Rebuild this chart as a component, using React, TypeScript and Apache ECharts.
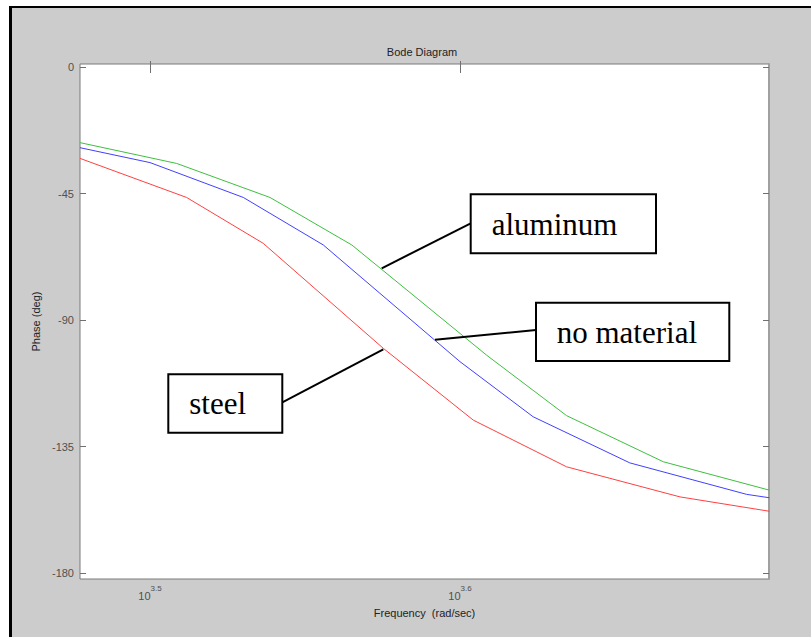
import React, { useEffect, useRef } from "react";
import * as echarts from "echarts";

// frequency given as log10(rad/sec) exponent, phase in degrees
const aluminumFreqExp = [3.4774, 3.5086, 3.5387, 3.5651, 3.6086, 3.6344, 3.6656, 3.6998];
const aluminumPhase = [-26.9, -34.3, -46.4, -63.3, -102.5, -124.0, -140.4, -150.5];

const noMaterialFreqExp = [3.4774, 3.5, 3.5301, 3.5559, 3.6, 3.6236, 3.6548, 3.6925, 3.6998];
const noMaterialPhase = [-28.7, -34.0, -46.4, -63.3, -104.8, -124.4, -140.8, -152.0, -153.2];

const steelFreqExp = [3.4774, 3.5118, 3.5365, 3.5753, 3.6043, 3.6344, 3.671, 3.6998];
const steelPhase = [-32.5, -46.4, -62.7, -100.1, -125.6, -142.2, -152.9, -158.0];

const xTickExps = [3.5, 3.6];
const yTicks = [0, -45, -90, -135, -180];

const X_MIN = 3.4774;
const X_MAX = 3.6997;
const Y_MIN = -182.1;
const Y_MAX = 1.07;

const zip = (xs: number[], ys: number[]) => xs.map((x, i) => [x, ys[i]]);

const tickColor = "#707070";
const labelColor = "#505050";
const sans = "'Liberation Sans', Arial, sans-serif";
const serif = "'Liberation Serif', 'Times New Roman', serif";

function buildOption(): any {
  const boxText = (text: string, x: number, y: number) => ({
    type: "text",
    x,
    y,
    z: 101,
    style: {
      text,
      fill: "#000",
      font: `31px ${serif}`,
      textAlign: "left",
      textVerticalAlign: "middle",
    },
  });
  const box = (x: number, y: number, w: number, h: number) => ({
    type: "rect",
    z: 100,
    shape: { x, y, width: w, height: h },
    style: { fill: "#fff", stroke: "#000", lineWidth: 2 },
  });
  const connector = (x1: number, y1: number, x2: number, y2: number) => ({
    type: "line",
    z: 100,
    shape: { x1, y1, x2, y2 },
    style: { stroke: "#000", lineWidth: 2 },
  });

  return {
    animation: false,
    backgroundColor: "transparent",
    grid: {
      left: 80,
      top: 64,
      width: 689,
      height: 515,
      show: true,
      backgroundColor: "#ffffff",
      borderColor: "#7a7a7a",
      borderWidth: 1,
    },
    xAxis: [
      {
        type: "value",
        min: X_MIN,
        max: X_MAX,
        position: "bottom",
        axisLine: { show: false },
        splitLine: { show: false },
        axisTick: {
          show: true,
          inside: true,
          length: 6,
          customValues: xTickExps,
          lineStyle: { color: tickColor },
        },
        axisLabel: {
          show: true,
          margin: 5,
          customValues: xTickExps,
          formatter: (v: number) => `{b|10}{s|${v.toFixed(1)}}`,
          rich: {
            b: {
              fontSize: 11,
              fontFamily: sans,
              color: labelColor,
              verticalAlign: "bottom",
              lineHeight: 17,
            },
            s: {
              fontSize: 8,
              fontFamily: sans,
              color: labelColor,
              verticalAlign: "top",
              lineHeight: 17,
            },
          },
        },
        name: "Frequency  (rad/sec)",
        nameLocation: "middle",
        nameGap: 28,
        nameTextStyle: { fontSize: 11, fontFamily: sans, color: "#222" },
      },
      {
        type: "value",
        min: X_MIN,
        max: X_MAX,
        position: "top",
        axisLine: { show: false },
        splitLine: { show: false },
        axisLabel: { show: false },
        axisTick: {
          show: true,
          inside: true,
          length: 6,
          customValues: xTickExps,
          lineStyle: { color: tickColor },
        },
      },
    ],
    yAxis: [
      {
        type: "value",
        min: Y_MIN,
        max: Y_MAX,
        position: "left",
        axisLine: { show: false },
        splitLine: { show: false },
        axisTick: {
          show: true,
          inside: true,
          length: 6,
          customValues: yTicks,
          lineStyle: { color: tickColor },
        },
        axisLabel: {
          show: true,
          margin: 6,
          customValues: yTicks,
          fontSize: 11,
          fontFamily: sans,
          color: labelColor,
        },
        name: "Phase (deg)",
        nameLocation: "middle",
        nameGap: 37,
        nameTextStyle: { fontSize: 11, fontFamily: sans, color: "#222" },
      },
      {
        type: "value",
        min: Y_MIN,
        max: Y_MAX,
        position: "right",
        axisLine: { show: true, lineStyle: { color: "#a0a0a0", width: 2 } },
        splitLine: { show: false },
        axisLabel: { show: false },
        axisTick: {
          show: true,
          inside: true,
          length: 6,
          customValues: yTicks,
          lineStyle: { color: tickColor },
        },
      },
    ],
    series: [
      {
        name: "aluminum",
        type: "line",
        xAxisIndex: 0,
        yAxisIndex: 0,
        data: zip(aluminumFreqExp, aluminumPhase),
        showSymbol: false,
        symbol: "none",
        lineStyle: { color: "#3fbf3f", width: 1 },
        itemStyle: { color: "#3fbf3f" },
      },
      {
        name: "no material",
        type: "line",
        xAxisIndex: 0,
        yAxisIndex: 0,
        data: zip(noMaterialFreqExp, noMaterialPhase),
        showSymbol: false,
        symbol: "none",
        lineStyle: { color: "#4040ff", width: 1 },
        itemStyle: { color: "#4040ff" },
      },
      {
        name: "steel",
        type: "line",
        xAxisIndex: 0,
        yAxisIndex: 0,
        data: zip(steelFreqExp, steelPhase),
        showSymbol: false,
        symbol: "none",
        lineStyle: { color: "#ff4040", width: 1 },
        itemStyle: { color: "#ff4040" },
      },
    ],
    graphic: [
      {
        type: "text",
        x: 422,
        y: 52,
        style: {
          text: "Bode Diagram",
          fill: "#222",
          font: `11px ${sans}`,
          textAlign: "center",
          textVerticalAlign: "middle",
        },
      },
      connector(470.7, 223.3, 381.7, 268.3),
      connector(536, 330, 435, 339.7),
      connector(282.3, 402.3, 383.3, 349.3),
      box(470.7, 194.3, 185.3, 59),
      box(536, 302.7, 193.3, 58.3),
      box(168.3, 374.3, 114, 58.4),
      boxText("aluminum", 491.7, 224),
      boxText("no material", 556.7, 332),
      boxText("steel", 189.3, 403.7),
    ],
  };
}

export default function App() {
  const ref = useRef<HTMLDivElement>(null);
  useEffect(() => {
    if (!ref.current) return;
    const chart = echarts.init(ref.current, null, { renderer: "svg" });
    chart.setOption(buildOption());
    return () => chart.dispose();
  }, []);
  return (
    <div
      style={{
        position: "absolute",
        left: 0,
        top: 0,
        width: 811,
        height: 637,
        background: "#ffffff",
        overflow: "hidden",
      }}
    >
      <div
        style={{
          position: "absolute",
          left: 9,
          top: 6,
          width: 900,
          height: 700,
          background: "#cccccc",
          borderLeft: "3px solid #000",
          borderTop: "2px solid #000",
        }}
      />
      <div
        ref={ref}
        style={{ position: "absolute", left: 0, top: 0, width: 811, height: 637 }}
      />
    </div>
  );
}
